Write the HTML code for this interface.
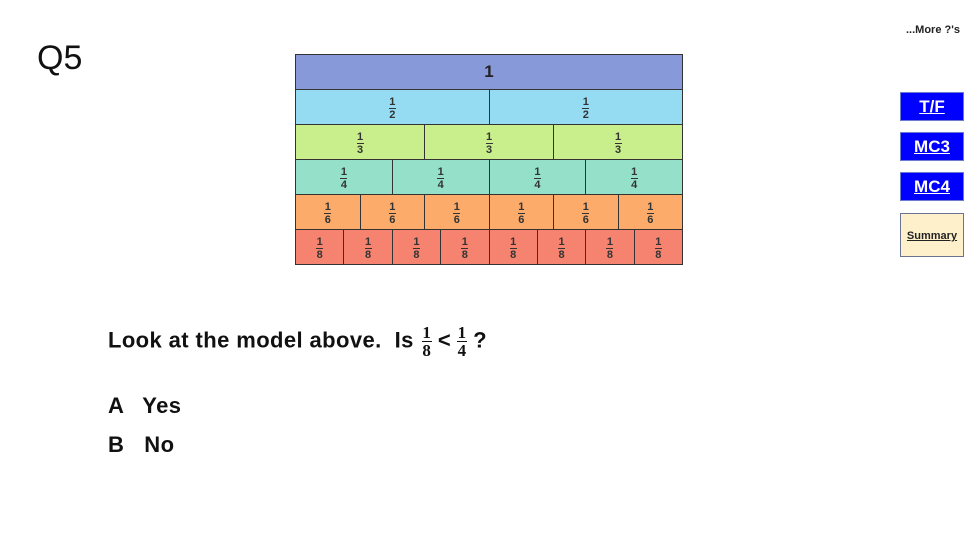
<!DOCTYPE html>
<html><head><meta charset="utf-8"><style>
body{margin:0;width:978px;height:550px;background:#fff;position:relative;overflow:hidden;font-family:"Liberation Sans",sans-serif}
.a{position:absolute}
.chart{left:295px;top:54px;width:388px;height:211px;border:1.5px solid #333;box-sizing:border-box;display:flex;flex-direction:column}
.row{display:flex;flex:1;box-sizing:border-box;border-bottom:1.5px solid #333}
.row:last-child{border-bottom:none}
.c{flex:1;border-right:1.5px solid #333;display:flex;justify-content:center;padding-top:7px;box-sizing:border-box}
.c:last-child{border-right:none}
.f{display:flex;flex-direction:column;align-items:center;font-size:11px;font-weight:bold;color:#333;line-height:10px}
.f i{display:block;width:7px;border-top:1px solid #333;margin:1px 0;font-style:normal}
.btn{position:absolute;left:900px;width:64px;height:29px;background:#0000ff;border:1px solid #6b7bd0;box-sizing:border-box;color:#fff;font-weight:bold;font-size:17px;text-decoration:underline;text-align:center;line-height:28px}
.q{font-weight:bold;font-size:22px;color:#111;letter-spacing:0.4px}
.mf{display:inline-flex;flex-direction:column;align-items:center;font-family:"Liberation Serif",serif;font-size:17px;line-height:15px;vertical-align:middle;margin:0 6px}
.mf i{display:block;width:10px;border-top:1px solid #111;margin:1px 0;font-style:normal}
</style></head><body>
<div class="a" style="left:37px;top:39px;font-size:34px;color:#111">Q5</div>
<div class="a" style="left:906px;top:24px;font-size:11px;font-weight:bold;color:#222">...More ?'s</div>
<div class="btn" style="top:92px">T/F</div>
<div class="btn" style="top:132px">MC3</div>
<div class="btn" style="top:172px">MC4</div>
<div class="a" style="left:900px;top:213px;width:64px;height:44px;background:#fff0cc;border:1px solid #6a7390;box-sizing:border-box;font-size:11px;font-weight:bold;text-decoration:underline;text-align:center;line-height:44px;color:#222">Summary</div>

<div class="a chart">
 <div class="row" style="background:#8899d9"><div class="c" style="padding-top:7px;font-size:17px;font-weight:bold;color:#222">1</div></div>
 <div class="row" style="background:#95dcf3"><div class="c"><div class="f">1<i></i>2</div></div><div class="c"><div class="f">1<i></i>2</div></div></div>
 <div class="row" style="background:#c8ef8c"><div class="c"><div class="f">1<i></i>3</div></div><div class="c"><div class="f">1<i></i>3</div></div><div class="c"><div class="f">1<i></i>3</div></div></div>
 <div class="row" style="background:#94e0c8"><div class="c"><div class="f">1<i></i>4</div></div><div class="c"><div class="f">1<i></i>4</div></div><div class="c"><div class="f">1<i></i>4</div></div><div class="c"><div class="f">1<i></i>4</div></div></div>
 <div class="row" style="background:#fdab6b"><div class="c"><div class="f">1<i></i>6</div></div><div class="c"><div class="f">1<i></i>6</div></div><div class="c"><div class="f">1<i></i>6</div></div><div class="c"><div class="f">1<i></i>6</div></div><div class="c"><div class="f">1<i></i>6</div></div><div class="c"><div class="f">1<i></i>6</div></div></div>
 <div class="row" style="background:#f5836f"><div class="c"><div class="f">1<i></i>8</div></div><div class="c"><div class="f">1<i></i>8</div></div><div class="c"><div class="f">1<i></i>8</div></div><div class="c"><div class="f">1<i></i>8</div></div><div class="c"><div class="f">1<i></i>8</div></div><div class="c"><div class="f">1<i></i>8</div></div><div class="c"><div class="f">1<i></i>8</div></div><div class="c"><div class="f">1<i></i>8</div></div></div>
</div>

<div class="a q" style="left:108px;top:325px;white-space:nowrap">Look at the model above.&nbsp; Is<span class="mf" style="margin-left:8px">1<i></i>8</span>&lt;<span class="mf">1<i></i>4</span>?</div>
<div class="a q" style="left:108px;top:393px">A<span style="margin-left:18px">Yes</span></div>
<div class="a q" style="left:108px;top:432px">B<span style="margin-left:20px">No</span></div>
</body></html>
